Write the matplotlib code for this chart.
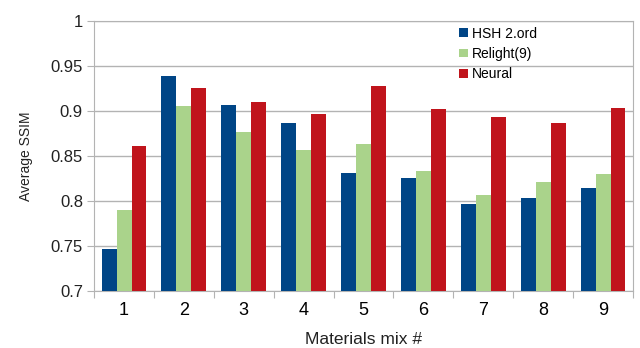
import matplotlib
matplotlib.use('Agg')
import matplotlib.pyplot as plt
import numpy as np

plt.rcParams['font.family'] = ['Liberation Sans', 'DejaVu Sans']

# data
mixes = ['1', '2', '3', '4', '5', '6', '7', '8', '9']
hsh = [0.747, 0.939, 0.907, 0.886, 0.831, 0.826, 0.797, 0.803, 0.814]
relight = [0.790, 0.905, 0.876, 0.857, 0.863, 0.833, 0.807, 0.821, 0.830]
neural = [0.861, 0.925, 0.910, 0.896, 0.928, 0.902, 0.893, 0.886, 0.903]

fig = plt.figure(figsize=(6.4, 3.48), dpi=100)
ax = fig.add_axes([0.147, 0.164, 0.842, 0.776])

x = np.arange(len(mixes))
w = 0.25
ax.bar(x - w, hsh, w, color='#004586', label='HSH 2.ord', zorder=3)
ax.bar(x, relight, w, color='#aad38b', label='Relight(9)', zorder=3)
ax.bar(x + w, neural, w, color='#c0141c', label='Neural', zorder=3)

ax.set_xlim(-0.5, len(mixes) - 0.5)
ax.set_ylim(0.7, 1.0)
ax.set_yticks([0.7, 0.75, 0.8, 0.85, 0.9, 0.95, 1.0])
ax.set_yticklabels(['0.7', '0.75', '0.8', '0.85', '0.9', '0.95', '1'])
ax.yaxis.grid(True, color='#b3b3b3', linewidth=1, zorder=0)

# ticks at category boundaries, labels at centres
ax.set_xticks(np.arange(len(mixes) + 1) - 0.5)
ax.set_xticklabels([])
ax.set_xticks(x, minor=True)
ax.set_xticklabels(mixes, minor=True)
ax.tick_params(axis='x', which='minor', length=0, pad=8, labelsize=13)
ax.tick_params(axis='x', which='major', length=5, color='#b3b3b3')
ax.tick_params(axis='y', length=5, color='#b3b3b3', pad=3, labelsize=12)
ax.tick_params(labelcolor='#222222')

for s in ax.spines.values():
    s.set_color('#b3b3b3')

ax.set_ylabel('Average SSIM', fontsize=10, color='#222222', labelpad=13)
ax.set_xlabel('Materials mix #', fontsize=12.5, color='#222222', labelpad=9)

ax.legend(loc='upper right', bbox_to_anchor=(0.845, 1.025), frameon=False, fontsize=10,
          handlelength=0.6, handleheight=0.6, handletextpad=0.3, labelspacing=0.45)

fig.savefig('out.png')
